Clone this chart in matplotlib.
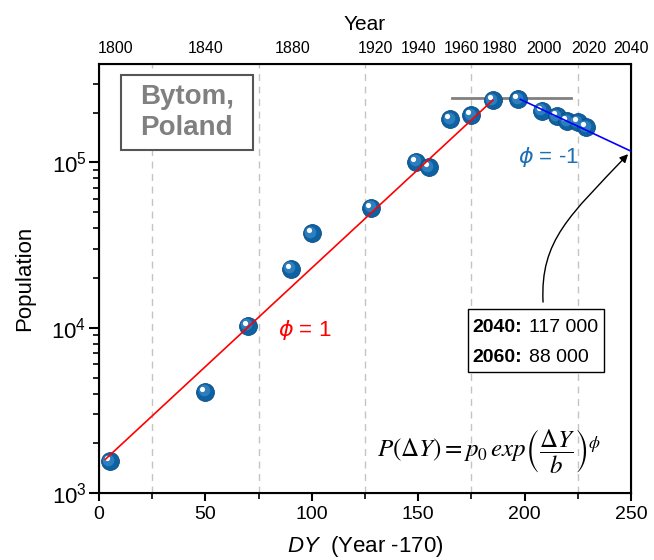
import numpy as np
import matplotlib
matplotlib.use("Agg")
import matplotlib.pyplot as plt
from matplotlib.patches import FancyArrowPatch, Rectangle
from matplotlib.path import Path
from matplotlib.transforms import offset_copy

plt.rcParams['font.family'] = ['Liberation Sans', 'DejaVu Sans']
plt.rcParams['mathtext.fontset'] = 'custom'
plt.rcParams['mathtext.rm'] = 'Liberation Sans'
plt.rcParams['mathtext.it'] = 'Liberation Sans:italic'
plt.rcParams['mathtext.bf'] = 'Liberation Sans:bold'

# measured points (DY, population)
dy = [5, 50, 70, 90, 100, 128, 149, 155, 165, 175, 185, 197, 208, 215, 220, 225, 229]
pop = [1560, 4090, 10300, 22800, 37200, 53300, 101000, 93300, 182000, 193000,
       238000, 241000, 206000, 190000, 177000, 175000, 163000]

# model lines
fit_up_dy = [3, 185]
fit_up_p = [1600, 238000]
fit_down_dy = [198, 250]
fit_down_p = [241000, 117000]
peak_dy = [166, 222]
peak_p = [244000, 244000]

# top axis
year_pos = [8, 50, 91, 130, 150, 170.5, 188, 209, 230, 250]
year_labels = ['1800', '1840', '1880', '1920', '1940', '1960', '1980', '2000', '2020', '2040']

# forecast box
fc_years = ['2040:', '2060:']
fc_values = ['117 000', '88 000']

fig = plt.figure(figsize=(6.54, 5.6), dpi=100)
ax = fig.add_axes([0.1514, 0.1196, 0.8135, 0.766])

ax.set_yscale('log')
ax.set_xlim(0, 250)
ax.set_ylim(1000, 394000)

for x in [25, 75, 125, 175, 225]:
    ax.axvline(x, color='#c4c4c4', lw=1, ls=(0, (5, 4)), zorder=0)

ax.plot(peak_dy, peak_p, color='#808080', lw=2, zorder=1)

# sphere-like markers
ax.scatter(dy, pop, s=165, color='#0d62a3', edgecolors='#0a4a80', linewidths=0.6, zorder=3)
mid = offset_copy(ax.transData, fig=fig, x=-1.5, y=1.5, units='dots')
ax.scatter(dy, pop, s=70, color='#4a95d2', alpha=0.55, linewidths=0, zorder=4, transform=mid)
spot = offset_copy(ax.transData, fig=fig, x=-3, y=3, units='dots')
ax.scatter(dy, pop, s=14, color='white', linewidths=0, zorder=5, transform=spot)

ax.plot(fit_up_dy, fit_up_p, color='red', lw=1.2, zorder=6)
ax.plot(fit_down_dy, fit_down_p, color='blue', lw=1.2, zorder=6)

for s in ax.spines.values():
    s.set_linewidth(1.5)
ax.set_xticks([0, 50, 100, 150, 200, 250])
ax.set_xticks([25, 75, 125, 175, 225], minor=True)
ax.tick_params(axis='x', which='major', direction='out', length=6, width=1.5, labelsize=14, pad=3, top=False)
ax.tick_params(axis='x', which='minor', direction='out', length=4, width=1.2, top=False)
ax.tick_params(axis='y', which='major', direction='out', length=7, width=1.5, labelsize=16, pad=2, right=False)
ax.tick_params(axis='y', which='minor', direction='out', length=4, width=1.2, right=False)

ax.set_xlabel(r'$\mathit{DY}$  (Year -170)', fontsize=16, labelpad=8)
ax.set_ylabel('Population', fontsize=16, labelpad=12)

ax2 = ax.twiny()
ax2.set_xlim(0, 250)
ax2.set_xticks(year_pos, year_labels)
ax2.tick_params(axis='x', length=0, labelsize=11.5, pad=6)
ax2.set_xlabel('Year', fontsize=15, labelpad=8)

# city label
ax.add_patch(Rectangle((0.0414, 0.7995), 0.2481, 0.1745, transform=ax.transAxes,
                       fc='white', ec='#555555', lw=1.5, zorder=7))
ax.text(0.165, 0.888, 'Bytom,\nPoland', transform=ax.transAxes, ha='center', va='center',
        fontsize=20, fontweight='bold', color='#808080', linespacing=1.25, zorder=8)

ax.text(0.336, 0.38, r'$\phi$ = 1', transform=ax.transAxes, ha='left', va='center',
        fontsize=16, color='red', math_fontfamily='dejavusans')
ax.text(0.788, 0.783, r'$\phi$ = -1', transform=ax.transAxes, ha='left', va='center',
        fontsize=16, color='#1e6eb4', math_fontfamily='dejavusans')

# forecast box
ax.add_patch(Rectangle((0.6936, 0.282), 0.2556, 0.147, transform=ax.transAxes,
                       fc='white', ec='black', lw=1, zorder=7))
for i, (yr, val) in enumerate(zip(fc_years, fc_values)):
    yy = 0.387 - i * 0.07
    ax.text(0.701, yy, yr, transform=ax.transAxes, ha='left', va='center',
            fontsize=14, fontweight='bold', zorder=8)
    ax.text(0.808, yy, val, transform=ax.transAxes, ha='left', va='center',
            fontsize=14, zorder=8)

ax.text(0.733, 0.097, r'$P\left(\Delta Y\right)= p_0\,exp\left(\dfrac{\Delta Y}{b}\right)^{\phi}$',
        transform=ax.transAxes, ha='center', va='center', fontsize=18, math_fontfamily='stix')

verts = [(0.8346, 0.4452), (0.8290, 0.5897), (0.8860, 0.6480), (0.9944, 0.7900)]
arrow = FancyArrowPatch(path=Path(verts, [Path.MOVETO, Path.CURVE4, Path.CURVE4, Path.CURVE4]),
                        transform=ax.transAxes, arrowstyle='-|>', mutation_scale=12,
                        color='black', lw=1, zorder=8)
ax.add_patch(arrow)

fig.savefig('out.png', dpi=100)
